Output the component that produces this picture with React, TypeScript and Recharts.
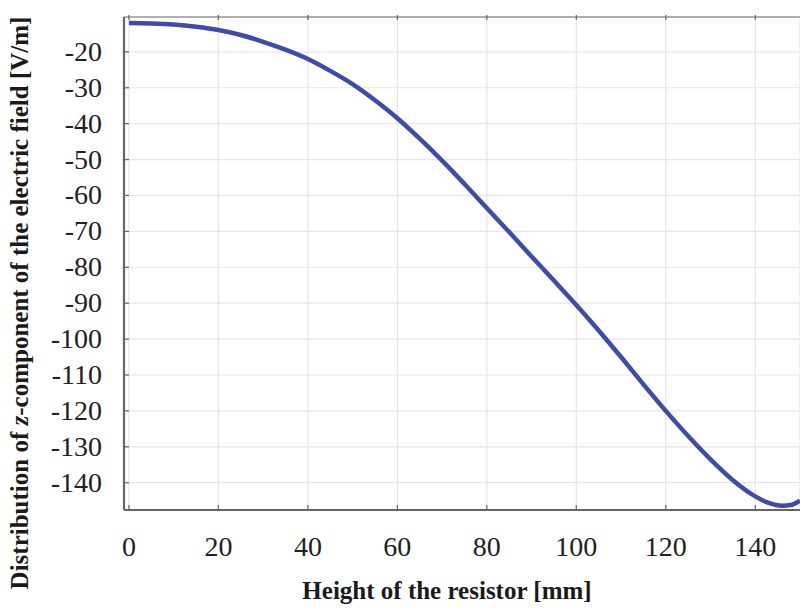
import React from "react";
import { CartesianGrid, Line, LineChart, XAxis, YAxis } from "recharts";

// values
const heightMm = [
  0, 5, 10, 15, 20, 25, 30, 35, 40, 45, 50, 55, 60, 65, 70, 75, 80, 85, 90,
  95, 100, 105, 110, 115, 120, 125, 130, 135, 140, 143, 146, 148, 150,
];
const fieldZ = [
  -12.0, -12.1, -12.4, -13.0, -13.9, -15.3, -17.2, -19.4, -22.0, -25.3, -29.0,
  -33.5, -38.5, -44.2, -50.3, -56.8, -63.5, -70.2, -77.0, -83.7, -90.5, -97.6,
  -105.0, -112.6, -120.0, -127.0, -133.5, -139.3, -143.8, -145.6, -146.4,
  -146.2, -145.0,
];
const xTicks = [0, 20, 40, 60, 80, 100, 120, 140];
const yTicks = [
  -20, -30, -40, -50, -60, -70, -80, -90, -100, -110, -120, -130, -140,
];

const data = heightMm.map((h, i) => ({ h, ez: fieldZ[i] }));

const serif = "'Liberation Serif', 'Times New Roman', serif";
const tickColor = "#666";
const tickText = { fontFamily: serif, fontSize: 28 };

const LeftTick = (props: any) => {
  const { x, y, payload } = props;
  return (
    <g>
      <line x1={x + 22} x2={x + 27} y1={y} y2={y} stroke={tickColor} strokeWidth={1.2} />
      <text x={x} y={y} dy={9} textAnchor="end" style={tickText} fill="#222">
        {payload.value}
      </text>
    </g>
  );
};

const BottomTick = (props: any) => {
  const { x, y, payload } = props;
  return (
    <g>
      <line x1={x} x2={x} y1={y} y2={y - 5} stroke={tickColor} strokeWidth={1.2} />
      <text x={x} y={y} dy={46} textAnchor="middle" style={tickText} fill="#222">
        {payload.value}
      </text>
    </g>
  );
};

const TopTick = (props: any) => {
  const { x, y } = props;
  return <line x1={x} x2={x} y1={y} y2={y + 5} stroke={tickColor} strokeWidth={1.2} />;
};

export default function App() {
  return (
    <div style={{ position: "absolute", left: 0, top: 0, width: 800, height: 610, background: "#fff" }}>
      <LineChart width={800} height={610} data={data} margin={{ top: 0, right: 0, bottom: 0, left: 0 }}>
        <CartesianGrid stroke="#e6e6e6" strokeWidth={1.2} />
        <XAxis
          dataKey="h"
          type="number"
          domain={[-1.1, 150]}
          ticks={xTicks}
          allowDataOverflow
          height={100}
          tickSize={0}
          tickMargin={0}
          axisLine={{ stroke: "#666", strokeWidth: 2.2 }}
          tickLine={false}
          tick={<BottomTick />}
        />
        <XAxis
          xAxisId="top"
          orientation="top"
          dataKey="h"
          type="number"
          domain={[-1.1, 150]}
          ticks={xTicks}
          allowDataOverflow
          height={17}
          tickSize={0}
          axisLine={{ stroke: "#999", strokeWidth: 1.5 }}
          tickLine={false}
          tick={<TopTick />}
        />
        <YAxis
          type="number"
          domain={[-147.6, -10.3]}
          ticks={yTicks}
          allowDataOverflow
          width={124}
          tickSize={0}
          tickMargin={22}
          axisLine={{ stroke: "#666", strokeWidth: 2.2 }}
          tickLine={false}
          tick={<LeftTick />}
        />
        <Line
          type="monotone"
          dataKey="ez"
          stroke="#3e4ba8"
          strokeWidth={4.5}
          dot={false}
          isAnimationActive={false}
        />
      </LineChart>
      <svg width={800} height={610} style={{ position: "absolute", left: 0, top: 0, pointerEvents: "none" }}>
        <text
          x={447}
          y={599}
          textAnchor="middle"
          style={{ fontFamily: serif, fontWeight: "bold", fontSize: 25 }}
          fill="#1a1a1a"
        >
          Height of the resistor [mm]
        </text>
        <text
          x={19}
          y={303}
          transform="rotate(-90, 19, 303)"
          textAnchor="middle"
          dominantBaseline="central"
          style={{ fontFamily: serif, fontWeight: "bold", fontSize: 25 }}
          fill="#1a1a1a"
        >
          Distribution of <tspan fontStyle="italic">z</tspan>-component of the electric field [V/m]
        </text>
      </svg>
    </div>
  );
}
